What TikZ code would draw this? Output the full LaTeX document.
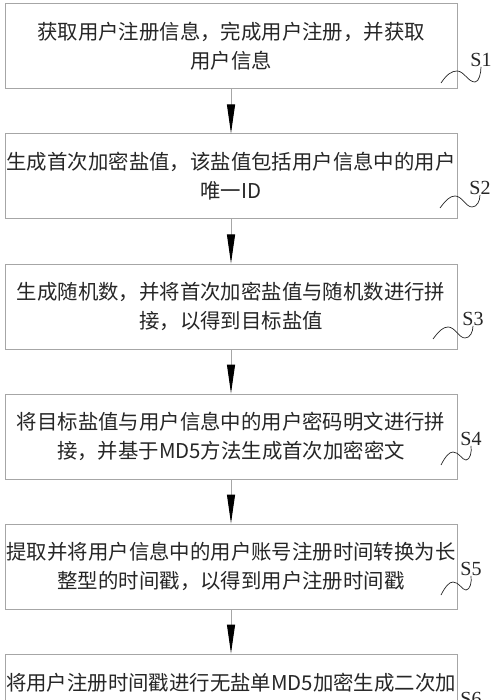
\documentclass[tikz,border=0pt]{standalone}
\usepackage{fontspec}
\setmainfont{Noto Sans CJK SC}
\newfontfamily\labelfont{Liberation Serif}
\usetikzlibrary{arrows.meta}
\definecolor{boxline}{HTML}{A6A6A6}
\definecolor{boxink}{HTML}{262626}
\tikzset{
  stepbox/.style={draw=boxline,line width=1pt,minimum width=452pt,minimum height=85pt,
    align=center,text=boxink,inner sep=0pt,font=\fontsize{20.4}{29}\selectfont},
  steplabel/.style={font=\labelfont\fontsize{20}{22}\selectfont,text=boxink,inner sep=0pt},
  flow/.style={draw=boxline,line width=1pt,-{Triangle[length=29pt,width=8pt,color=black]}},
  wave/.style={draw=boxink,line width=.7pt}
}

\begin{document}
\begin{tikzpicture}[x=1pt,y=-1pt]
  \clip (0,0) rectangle (500,700);
  \fill[white] (0,0) rectangle (500,700);

  % steps
  \node[stepbox] (b1) at (231,46.5) {获取用户注册信息，完成用户注册，并获取\\用户信息};
  \node[stepbox] (b2) at (231,176.5) {生成首次加密盐值，该盐值包括用户信息中的用户\\唯一ID};
  \node[stepbox] (b3) at (231,306.5) {生成随机数，并将首次加密盐值与随机数进行拼\\接，以得到目标盐值};
  \node[stepbox] (b4) at (231,436.5) {将目标盐值与用户信息中的用户密码明文进行拼\\接，并基于MD5方法生成首次加密密文};
  \node[stepbox] (b5) at (231,566.5) {提取并将用户信息中的用户账号注册时间转换为长\\整型的时间戳，以得到用户注册时间戳};
  \node[stepbox] (b6) at (231,696.5) {将用户注册时间戳进行无盐单MD5加密生成二次加\\\mbox{}};

  \draw[flow] (b1) -- (b2);
  \draw[flow] (b2) -- (b3);
  \draw[flow] (b3) -- (b4);
  \draw[flow] (b4) -- (b5);
  \draw[flow] (b5) -- (b6);

  % step labels
  \node[steplabel] (s1) at (481,60) {S1};
  \node[steplabel] (s2) at (480,188) {S2};
  \node[steplabel] (s3) at (473,319) {S3};
  \node[steplabel] (s4) at (471,439) {S4};
  \node[steplabel] (s5) at (471,569) {S5};
  \node[steplabel] (s6) at (471,699) {S6};

  \coordinate (w1) at (441,83);
  \coordinate (w2) at (440,208);
  \coordinate (w3) at (433,339);
  \coordinate (w4) at (441,465);
  \coordinate (w5) at (441,595);
  \coordinate (w6) at (441,725);

  \draw[wave] (w1) .. controls (447,74) and (452,71) .. (457,71) .. controls (464,71) and (468,82) .. (475,82) .. controls (479,82) and (481,73) .. (s1.south);
  \draw[wave] (w2) .. controls (446,200) and (450,196) .. (455,196) .. controls (462,196) and (466,207) .. (472,207) .. controls (477,207) and (480,201) .. (s2.south);
  \draw[wave] (w3) .. controls (439,331) and (443,327) .. (448,327) .. controls (455,327) and (459,338) .. (465,338) .. controls (470,338) and (473,332) .. (s3.south);
  \draw[wave] (w4) .. controls (445,457) and (449,452) .. (453,452) .. controls (459,452) and (462,460) .. (466,460) .. controls (470,460) and (472,452) .. (s4.south);
  \draw[wave] (w5) .. controls (445,587) and (449,582) .. (453,582) .. controls (459,582) and (462,590) .. (466,590) .. controls (470,590) and (472,582) .. (s5.south);
  \draw[wave] (w6) .. controls (445,717) and (449,712) .. (453,712) .. controls (459,712) and (462,720) .. (466,720) .. controls (470,720) and (472,712) .. (s6.south);
\end{tikzpicture}
\end{document}
